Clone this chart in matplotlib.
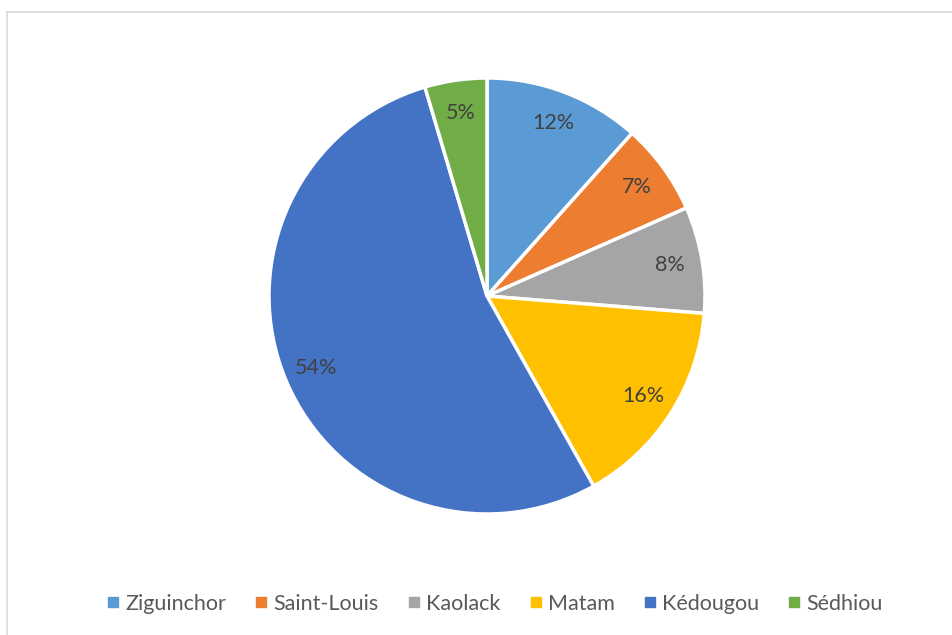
import matplotlib.pyplot as plt
from matplotlib.lines import Line2D

# Regions and their share
regions = ['Ziguinchor', 'Saint-Louis', 'Kaolack', 'Matam', 'Kédougou', 'Sédhiou']
shares = [11.6, 6.8, 7.9, 15.6, 53.6, 4.6]
colors = ['#5B9BD5', '#ED7D31', '#A5A5A5', '#FFC000', '#4472C4', '#70AD47']

plt.rcParams['font.family'] = ['Lato', 'DejaVu Sans']

fig = plt.figure(figsize=(9.53, 6.35), dpi=100)
W, H = 953.0, 635.0

# Pie axes, square in pixels
cx, cy, r = 487.0, 296.0, 218.0
ax = fig.add_axes([(cx - r) / W, (H - cy - r) / H, 2 * r / W, 2 * r / H])
wedges, texts, autotexts = ax.pie(
    shares, colors=colors, startangle=90, counterclock=False,
    autopct='%1.0f%%', pctdistance=0.85,
    wedgeprops=dict(edgecolor='white', linewidth=2.5),
    textprops=dict(color='#404040', fontsize=15.5))
ax.set_xlim(-1.0, 1.0)
ax.set_ylim(-1.0, 1.0)
ax.axis('off')

# Chart frame (left and top edges)
fig.add_artist(Line2D([7.5 / W, 7.5 / W], [0, 1 - 11.5 / H], transform=fig.transFigure,
                      color='#D9D9D9', linewidth=1.2))
fig.add_artist(Line2D([7.5 / W, 1], [1 - 11.5 / H, 1 - 11.5 / H], transform=fig.transFigure,
                      color='#D9D9D9', linewidth=1.2))

# Legend
handles = [Line2D([], [], marker='s', linestyle='none', markersize=7,
                  markerfacecolor=c, markeredgecolor=c) for c in colors]
fig.legend(handles, regions, loc='center', bbox_to_anchor=(493 / W, 1 - 604 / H),
           ncol=6, frameon=False, fontsize=15.5, labelcolor='#595959',
           handletextpad=0.1, columnspacing=1.2, handlelength=0.9)

fig.savefig('out.png', dpi=100)
